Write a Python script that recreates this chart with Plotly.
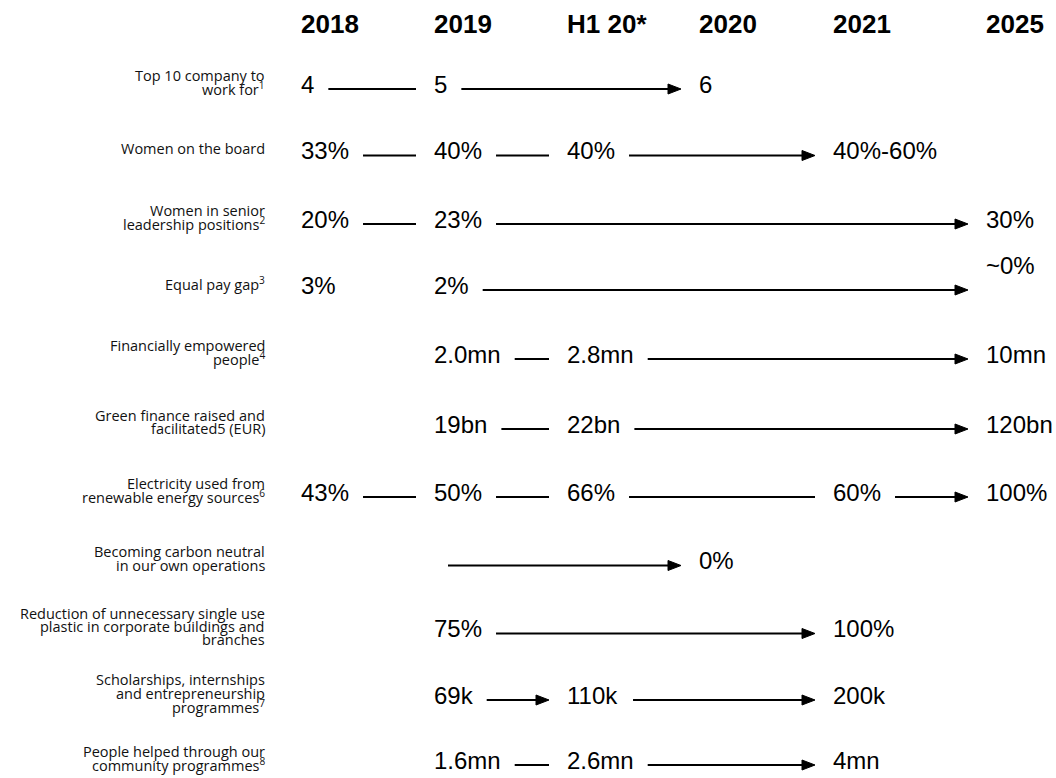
import plotly.graph_objects as go

# ---------------- data ----------------
columns = ["2018", "2019", "H1 20*", "2020", "2021", "2025"]

row_labels = [
    "Top 10 company to<br>work for<sup>1</sup>",
    "Women on the board",
    "Women in senior<br>leadership positions<sup>2</sup>",
    "Equal pay gap<sup>3</sup>",
    "Financially empowered<br>people<sup>4</sup>",
    "Green finance raised and<br>facilitated5 (EUR)",
    "Electricity used from<br>renewable energy sources<sup>6</sup>",
    "Becoming carbon neutral<br>in our own operations",
    "Reduction of unnecessary single use<br>plastic in corporate buildings and<br>branches",
    "Scholarships, internships<br>and entrepreneurship<br>programmes<sup>7</sup>",
    "People helped through our<br>community programmes<sup>8</sup>",
]

row_values = [
    ["4", "5", None, "6", None, None],
    ["33%", "40%", "40%", None, "40%-60%", None],
    ["20%", "23%", None, None, None, "30%"],
    ["3%", "2%", None, None, None, "~0%"],
    [None, "2.0mn", "2.8mn", None, None, "10mn"],
    [None, "19bn", "22bn", None, None, "120bn"],
    ["43%", "50%", "66%", None, "60%", "100%"],
    [None, None, None, "0%", None, None],
    [None, "75%", None, None, "100%", None],
    [None, "69k", "110k", None, "200k", None],
    [None, "1.6mn", "2.6mn", None, "4mn", None],
]

# connectors: (row, from column, to column, has arrowhead)
connectors = [
    (0, 0, 1, False), (0, 1, 3, True),
    (1, 0, 1, False), (1, 1, 2, False), (1, 2, 4, True),
    (2, 0, 1, False), (2, 1, 5, True),
    (3, 1, 5, True),
    (4, 1, 2, False), (4, 2, 5, True),
    (5, 1, 2, False), (5, 2, 5, True),
    (6, 0, 1, False), (6, 1, 2, False), (6, 2, 4, False), (6, 4, 5, True),
    (7, 1, 3, True),
    (8, 1, 4, True),
    (9, 1, 2, True), (9, 2, 4, True),
    (10, 1, 2, False), (10, 2, 4, True),
]

# ---------------- layout constants ----------------
W, H = 1056, 778
col_x = [301, 434, 567, 699, 833, 986]   # left edge of the text in each column
header_y = 24
row_y = [84, 150.5, 219, 285, 354, 424, 492, 560.5, 628.5, 695, 760]
label_right = 265
label_pitch = 13.4
raised = {(3, 5): -20}       # "~0%" sits above its arrow
PAD = 2                      # annotation inner padding

VAL_FONT = 24
LBL_FONT = 14.5
char_w = {"%": 0.889, ".": 0.278, "m": 0.833, "n": 0.556, "b": 0.556,
          "k": 0.5, "-": 0.333, "~": 0.584}


def text_width(s):
    if not s:
        return 0
    return sum(char_w.get(c, 0.556) for c in s) * VAL_FONT


fig = go.Figure()
annotations = []

# headers
for cx, name in zip(col_x, columns):
    annotations.append(dict(x=cx - PAD, y=header_y, xref="x", yref="y", text="<b>%s</b>" % name,
                            showarrow=False, xanchor="left", yanchor="middle",
                            font=dict(family="Liberation Sans, Arial", size=26, color="#000")))

# row labels (one annotation per line, tight line pitch)
for i, lab in enumerate(row_labels):
    lines = lab.split("<br>")
    n = len(lines)
    for j, ln in enumerate(lines):
        yy = row_y[i] - 2 + (j - (n - 1) / 2) * label_pitch
        annotations.append(dict(x=label_right + PAD, y=yy, xref="x", yref="y", text=ln,
                                showarrow=False, xanchor="right", yanchor="middle",
                                font=dict(family="Open Sans", size=LBL_FONT, color="#111")))

# values
for i, vals in enumerate(row_values):
    for c, v in enumerate(vals):
        if v is None:
            continue
        annotations.append(dict(x=col_x[c] - PAD, y=row_y[i] + raised.get((i, c), 0),
                                xref="x", yref="y", text=v, showarrow=False,
                                xanchor="left", yanchor="middle",
                                font=dict(family="Liberation Sans, Arial", size=VAL_FONT, color="#000")))

# connectors
gap_start, gap_end = 14, 18
head_len, head_half = 13, 5
lx, ly, hx, hy = [], [], [], []
for (r, a, b, arrow) in connectors:
    x0 = col_x[a] + text_width(row_values[r][a]) + gap_start
    x1 = col_x[b] - gap_end
    y = row_y[r] + 5
    lx += [x0, x1 - (head_len - 2 if arrow else 0), None]
    ly += [y, y, None]
    if arrow:
        hx += [x1, x1 - head_len, x1 - head_len, x1, None]
        hy += [y, y - head_half, y + head_half, y, None]

fig.add_trace(go.Scatter(x=lx, y=ly, mode="lines", line=dict(color="#000", width=2),
                         hoverinfo="skip", showlegend=False))
fig.add_trace(go.Scatter(x=hx, y=hy, mode="lines", fill="toself", fillcolor="#000",
                         line=dict(color="#000", width=1), hoverinfo="skip", showlegend=False))

fig.update_layout(
    width=W, height=H, margin=dict(l=0, r=0, t=0, b=0),
    paper_bgcolor="white", plot_bgcolor="white",
    xaxis=dict(range=[0, W], visible=False, fixedrange=True),
    yaxis=dict(range=[H, 0], visible=False, fixedrange=True),
    annotations=annotations, showlegend=False,
)

fig.write_html("out.html", config={"displayModeBar": False},
               post_script="document.body.style.margin='0';document.body.style.overflow='hidden';")
